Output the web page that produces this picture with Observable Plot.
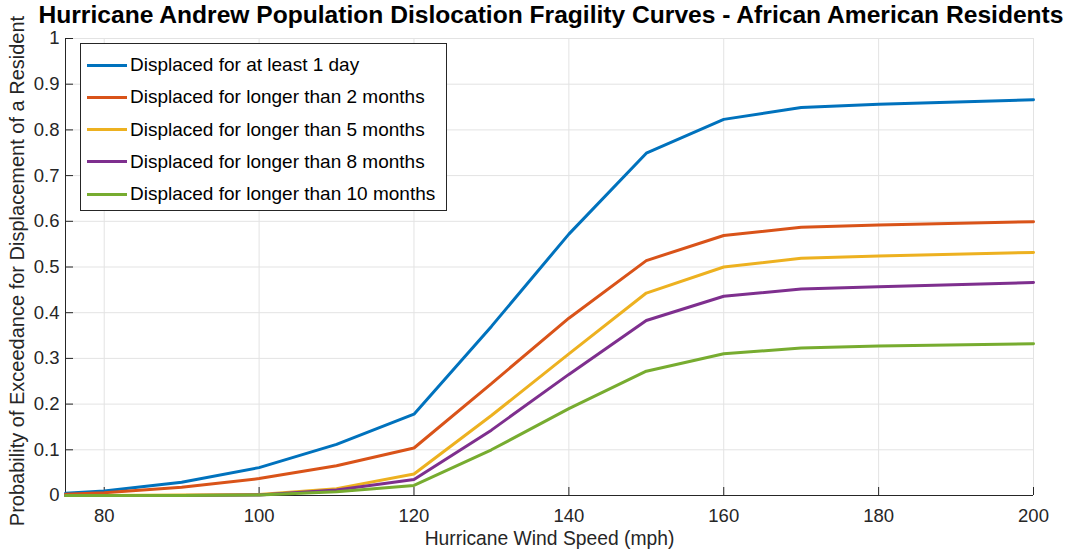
<!DOCTYPE html>
<html>
<head>
<meta charset="utf-8">
<script src="https://cdn.jsdelivr.net/npm/d3@7"></script>
<script src="https://cdn.jsdelivr.net/npm/@observablehq/plot@0.6"></script>
<style>
  html, body { margin: 0; padding: 0; background: #fff; }
  #wrap { position: relative; width: 1073px; height: 550px; font-family: "Liberation Sans", Arial, sans-serif; }
  #title { position: absolute; left: 551px; transform: translateX(-50%); top: 5px; line-height: 20px; text-align: center; font-weight: bold; font-size: 24.6px; color: #000; white-space: nowrap; }
  #legend { position: absolute; left: 80px; top: 43px; width: 367px; height: 168px; box-sizing: border-box; border: 1px solid #262626; background: #fff; }
  .row { position: absolute; left: 0; height: 22px; display: flex; align-items: center; font-size: 19px; color: #000; white-space: nowrap; }
  .sw { width: 40px; height: 3px; margin-left: 6px; margin-right: 3px; }
</style>
</head>
<body>
<div id="wrap">
  <div id="title">Hurricane Andrew Population Dislocation Fragility Curves - African American Residents</div>
  <div id="chart"></div>
  <div id="legend"></div>
</div>
<script>
const windSpeed = [75, 80, 90, 100, 110, 120, 130, 140, 150, 160, 170, 180, 200];
const seriesNames = [
  "Displaced for at least 1 day",
  "Displaced for longer than 2 months",
  "Displaced for longer than 5 months",
  "Displaced for longer than 8 months",
  "Displaced for longer than 10 months"
];
const atLeast1Day   = [0.005, 0.010, 0.029, 0.061, 0.112, 0.178, 0.370, 0.572, 0.749, 0.823, 0.849, 0.856, 0.866];
const longer2Months = [0.003, 0.006, 0.018, 0.037, 0.065, 0.104, 0.245, 0.388, 0.514, 0.569, 0.587, 0.592, 0.599];
const longer5Months = [0.000, 0.000, 0.001, 0.002, 0.015, 0.047, 0.175, 0.310, 0.443, 0.500, 0.519, 0.524, 0.532];
const longer8Months = [0.000, 0.000, 0.000, 0.001, 0.012, 0.035, 0.143, 0.265, 0.383, 0.436, 0.452, 0.457, 0.466];
const longer10Months= [0.000, 0.000, 0.000, 0.001, 0.008, 0.022, 0.100, 0.190, 0.272, 0.310, 0.323, 0.327, 0.332];
const seriesValues = [atLeast1Day, longer2Months, longer5Months, longer8Months, longer10Months];
const colors = ["#0072BD", "#D95319", "#EDB120", "#7E2F8E", "#77AC30"];
const xTicks = [80, 100, 120, 140, 160, 180, 200];
const yTicks = [0, 0.1, 0.2, 0.3, 0.4, 0.5, 0.6, 0.7, 0.8, 0.9, 1];

const rows = [];
seriesNames.forEach((name, i) => {
  windSpeed.forEach((w, j) => rows.push({series: name, speed: w, p: seriesValues[i][j]}));
});

const axisColor = "#262626";
const chart = Plot.plot({
  width: 1073,
  height: 550,
  marginTop: 38,
  marginBottom: 55,
  marginLeft: 65,
  marginRight: 40,
  style: {fontFamily: "Liberation Sans, Arial, sans-serif", fontSize: "18.5px", color: axisColor, background: "transparent"},
  x: {domain: [75, 200], ticks: xTicks, label: null},
  y: {domain: [0, 1], ticks: yTicks, label: null},
  color: {domain: seriesNames, range: colors},
  marks: [
    Plot.gridX(xTicks, {stroke: "#e3e3e3", strokeOpacity: 1}),
    Plot.gridY(yTicks, {stroke: "#e3e3e3", strokeOpacity: 1}),
    Plot.axisX(xTicks, {tickSize: -8, tickPadding: 21, stroke: axisColor, fill: axisColor, fontSize: 18.5, tickFormat: d => d}),
    Plot.axisY(yTicks, {tickSize: -8, tickPadding: 14, stroke: axisColor, fill: axisColor, fontSize: 18.5, tickFormat: d => d}),
    Plot.ruleY([0], {stroke: axisColor}),
    Plot.ruleX([75], {stroke: axisColor}),
    Plot.line(rows, {x: "speed", y: "p", z: "series", stroke: "series", strokeWidth: 3, strokeLinejoin: "miter"}),
    Plot.text(["Hurricane Wind Speed (mph)"], {frameAnchor: "bottom", lineAnchor: "middle", dy: 43, text: d => d, fontSize: 19.3, fill: axisColor}),
    Plot.text(["Probability of Exceedance for Displacement of a Resident"], {frameAnchor: "left", textAnchor: "middle", dx: -48, dy: 4, rotate: -90, text: d => d, fontSize: 20, fill: axisColor})
  ]
});
document.getElementById("chart").appendChild(chart);

const legend = document.getElementById("legend");
seriesNames.forEach((name, i) => {
  const r = document.createElement("div");
  r.className = "row";
  r.style.top = (10 + i * 32.3) + "px";
  const sw = document.createElement("div");
  sw.className = "sw";
  sw.style.background = colors[i];
  const t = document.createElement("span");
  t.textContent = name;
  r.appendChild(sw); r.appendChild(t);
  legend.appendChild(r);
});
</script>
</body>
</html>
